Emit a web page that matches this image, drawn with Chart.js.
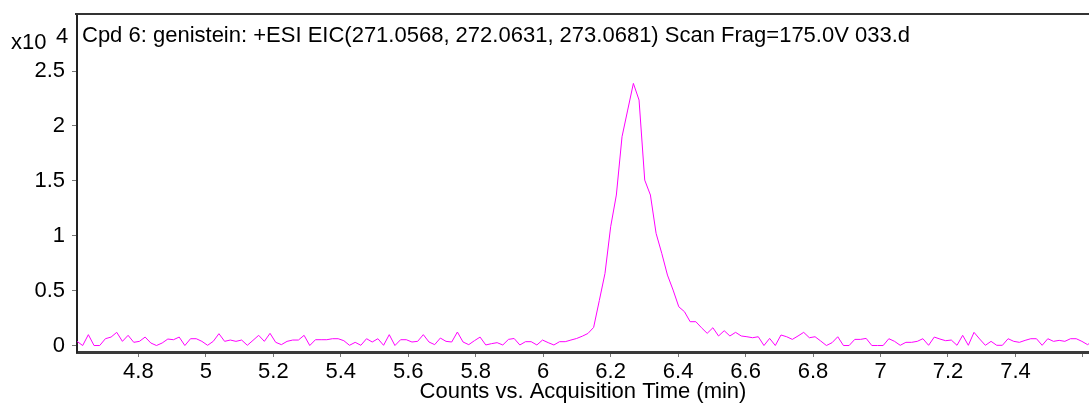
<!DOCTYPE html>
<html lang="en">
<head>
<meta charset="UTF-8">
<title>Cpd 6: genistein EIC</title>
<script src="https://cdn.jsdelivr.net/npm/chart.js"></script>
<style>
  html, body { margin: 0; padding: 0; background: #fff; }
  #wrap { width: 1089px; height: 405px; }
</style>
</head>
<body>
<div id="wrap"><canvas id="eic" width="1089" height="405"></canvas></div>
<script>
// scan grid (min) and counts in units of 10^4
const startTime = 4.618;
const scanStep = 0.01683;
const counts = [
  0.038, 0.0, 0.099, 0.0, 0.0, 0.062, 0.077, 0.12, 0.038, 0.093,
  0.029, 0.038, 0.077, 0.023, 0.0, 0.023, 0.059, 0.053, 0.077, 0.0,
  0.062, 0.062, 0.038, 0.002, 0.038, 0.108, 0.038, 0.05, 0.038, 0.05,
  0.002, 0.047, 0.093, 0.038, 0.111, 0.029, 0.008,
  0.038, 0.05, 0.05, 0.093, 0.0, 0.053, 0.053, 0.053, 0.062, 0.062,
  0.044, 0.002, 0.029, 0.002, 0.062, 0.032, 0.062, 0.002, 0.099, 0.0,
  0.053, 0.053, 0.032, 0.038, 0.099, 0.032, 0.008, 0.068, 0.038, 0.032,
  0.123, 0.032, 0.008, 0.044, 0.077,
  0.005, 0.017, 0.026, 0.005, 0.056, 0.064, 0.005, 0.035, 0.035, 0.005,
  0.05, 0.026, 0.005, 0.035, 0.035, 0.05, 0.064, 0.085, 0.11, 0.165,
  0.41, 0.657, 1.082, 1.371, 1.902, 2.145, 2.388, 2.236, 1.507, 1.371,
  1.022, 0.84, 0.642, 0.505, 0.353, 0.308, 0.217, 0.217, 0.162, 0.111,
  0.162, 0.087, 0.135, 0.087, 0.12, 0.087,
  0.08, 0.071, 0.08, 0.0, 0.065, 0.0, 0.096, 0.08, 0.056, 0.087,
  0.12, 0.071, 0.08, 0.041, 0.0, 0.026, 0.08, 0.0, 0.0, 0.056,
  0.056, 0.065, 0.0, 0.0, 0.0,
  0.062, 0.038, 0.002, 0.029, 0.029, 0.038, 0.062, 0.002, 0.077, 0.059,
  0.044, 0.05, 0.002, 0.093, 0.002, 0.12, 0.059, 0.002, 0.038, 0.002,
  0.002, 0.062, 0.038, 0.029, 0.047, 0.062, 0.062, 0.002, 0.062, 0.038,
  0.047, 0.038, 0.062, 0.062, 0.038, 0.008, 0.044
];
const xTicks = [4.8, 5, 5.2, 5.4, 5.6, 5.8, 6, 6.2, 6.4, 6.6, 6.8, 7, 7.2, 7.4, 7.6];
const yTicks = [0, 0.5, 1, 1.5, 2, 2.5];
const plotTitle = 'Cpd 6: genistein: +ESI EIC(271.0568, 272.0631, 273.0681) Scan Frag=175.0V 033.d';
const xTitle = 'Counts vs. Acquisition Time (min)';

const points = counts.map((c, i) => ({ x: startTime + i * scanStep, y: c }));
const font = '"Liberation Sans", Arial, sans-serif';

const decor = {
  id: 'decor',
  afterDraw(chart) {
    const { ctx, chartArea: a } = chart;
    ctx.save();
    ctx.strokeStyle = '#333';
    ctx.lineWidth = 2;
    ctx.beginPath();
    ctx.moveTo(a.left - 2, a.top);
    ctx.lineTo(a.right, a.top);
    ctx.stroke();
    ctx.fillStyle = '#000';
    ctx.textBaseline = 'middle';
    ctx.font = '22px ' + font;
    ctx.fillText(plotTitle, a.left + 5, 36);
    ctx.fillText('x10', 11, 43);
    ctx.fillText('4', 56, 37);
    ctx.restore();
  }
};

new Chart(document.getElementById('eic'), {
  type: 'line',
  data: {
    datasets: [{
      data: points,
      borderColor: '#ff00ff',
      borderWidth: 1,
      pointRadius: 0,
      tension: 0,
      fill: false
    }]
  },
  options: {
    responsive: false,
    animation: false,
    devicePixelRatio: 1,
    layout: { padding: { top: 14, right: 0, left: 0, bottom: 0 } },
    plugins: { legend: { display: false }, tooltip: { enabled: false } },
    scales: {
      x: {
        type: 'linear',
        min: 4.618,
        max: 7.618,
        afterBuildTicks: s => { s.ticks = xTicks.map(v => ({ value: v })); },
        afterFit: s => { s.height = 53; s.paddingLeft = 0; s.paddingRight = 0; },
        border: { color: '#3a3a3a', width: 3 },
        grid: { drawOnChartArea: false, drawTicks: true, tickLength: 5, color: '#777' },
        ticks: {
          color: '#000',
          padding: 2,
          maxRotation: 0,
          autoSkip: false,
          font: { family: font, size: 22 },
          callback: v => (v === 7.6 ? '' : String(Number(v.toFixed(1))))
        },
        title: {
          display: true,
          text: xTitle,
          color: '#000',
          font: { family: font, size: 22 },
          padding: { top: -8, bottom: 0 }
        }
      },
      y: {
        min: -0.059,
        max: 3.02,
        afterBuildTicks: s => { s.ticks = yTicks.map(v => ({ value: v })); },
        afterFit: s => { s.width = 77; s.paddingTop = 0; s.paddingBottom = 0; },
        border: { color: '#222', width: 2 },
        grid: { drawOnChartArea: false, drawTicks: true, tickLength: 5, color: '#777' },
        ticks: {
          color: '#000',
          padding: 7,
          font: { family: font, size: 22 },
          callback: v => String(v)
        }
      }
    }
  },
  plugins: [decor]
});
</script>
</body>
</html>
